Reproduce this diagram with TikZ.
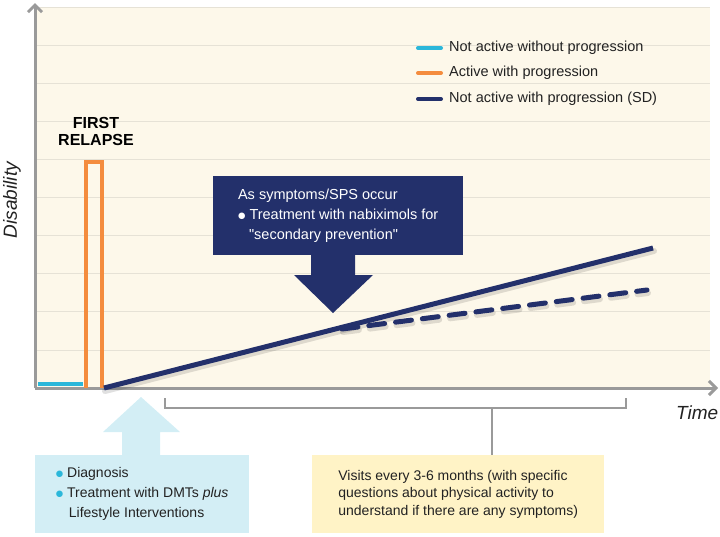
\documentclass[tikz,border=0pt]{standalone}
\usepackage{fontspec}
\setmainfont{Liberation Sans}
\newfontfamily\dejavu{DejaVu Sans}
\newcommand\mybul{\raisebox{1.3pt}{\dejavu\fontsize{8.5}{8.5}\selectfont ●}}
\usetikzlibrary{arrows.meta,calc}
\definecolor{cream}{HTML}{FDF8EA}
\definecolor{gridc}{HTML}{E6E2D6}
\definecolor{axisc}{HTML}{9A9A9A}
\definecolor{cyanc}{HTML}{2BB7DA}
\definecolor{orangec}{HTML}{F48C3E}
\definecolor{navyc}{HTML}{23306B}
\definecolor{lblue}{HTML}{D3EEF5}
\definecolor{lyellow}{HTML}{FFF3C6}
\definecolor{txt}{HTML}{222222}
\tikzset{
  axisline/.style={draw=axisc,line width=3pt,-{Straight Barb[length=7pt,width=14pt]}},
  gridline/.style={draw=gridc,line width=0.8pt},
  navyline/.style={draw=navyc,line width=5pt,line cap=round},
  shadowline/.style={draw=black,opacity=0.12,line width=6pt,line cap=round},
  legline/.style={line width=4pt,line cap=round},
  legtext/.style={anchor=west,inner sep=0pt,text=txt,font=\fontsize{14.5}{17}\selectfont},
  infobox/.style={inner xsep=16pt,inner ysep=0pt,align=left,text=txt,font=\fontsize{14}{19}\selectfont,minimum height=78pt},
  bracketline/.style={draw=axisc,line width=1.3pt}
}
\begin{document}
\begin{tikzpicture}[x=1pt,y=-1pt]
\useasboundingbox (0,0) rectangle (720,536);
% plot area
\fill[cream] (37,7) rectangle (710,388);
\foreach \k in {0,...,9} {
  \draw[gridline] (37,{7+38.1*\k}) -- (710,{7+38.1*\k});
}
% axes
\coordinate (O) at (35,388);
\coordinate (ytop) at (35,3);
\coordinate (xend) at (718,388);
\draw[axisline] (O) -- (ytop);
\draw[axisline] (O) -- (xend);
\node[rotate=90,font=\fontsize{19}{19}\selectfont\itshape,text=txt] (ylab) at (12,200) {Disability};
\node[font=\fontsize{19}{19}\selectfont\itshape,text=txt,anchor=west,inner sep=0pt] (xlab) at (676,413) {Time};
% not active without progression
\coordinate (c1) at (38,384);
\coordinate (c2) at (83,384);
\draw[legline,cyanc,line cap=butt] (c1) -- (c2);
% relapse
\coordinate (r1) at (86,388);
\coordinate (r2) at (86,162);
\coordinate (r3) at (102,162);
\coordinate (r4) at (102,388);
\draw[orangec,line width=4pt] (r1) -- (r2) -- (r3) -- (r4);
\node[font=\fontsize{16}{17}\selectfont\bfseries,align=center,text=black] (relapse) at (96,131) {FIRST\\RELAPSE};
% progression lines
\coordinate (s0) at (104,388);
\coordinate (s1) at (653,248);
\coordinate (d0) at (342,329);
\coordinate (d1) at (647,290);
\draw[shadowline] ($(s0)+(1,3)$) -- ($(s1)+(1,3)$);
\draw[shadowline,dash pattern=on 16pt off 11pt] ($(d0)+(1,3)$) -- ($(d1)+(1,3)$);
\draw[navyline,line cap=butt] (s0) -- (s1);
\draw[navyline,dash pattern=on 16pt off 11pt] (d0) -- (d1);
% legend
\coordinate (l1a) at (418,48); \coordinate (l1b) at (441,48);
\coordinate (l2a) at (418,73); \coordinate (l2b) at (441,73);
\coordinate (l3a) at (418,99); \coordinate (l3b) at (441,99);
\draw[legline,cyanc] (l1a) -- (l1b);
\draw[legline,orangec] (l2a) -- (l2b);
\draw[legline,navyc] (l3a) -- (l3b);
\node[legtext] (lt1) at (449,48) {Not active without progression};
\node[legtext] (lt2) at (449,73) {Active with progression};
\node[legtext] (lt3) at (449,99) {Not active with progression (SD)};
% nabiximols box and arrow
\node[fill=navyc,text=white,minimum width=250pt,minimum height=79pt,inner xsep=20pt,inner ysep=0pt,align=left,font=\fontsize{14.5}{20}\selectfont,anchor=north west] (nab) at (213,176)
  {As symptoms/SPS occur\\\mybul\ Treatment with nabiximols for\\\hspace*{11pt}\textquotedbl secondary prevention\textquotedbl};
\coordinate (tip) at (333,313);
\fill[navyc] (311,254) -- (355,254) -- (355,275) -- (373,275) -- (tip) -- (294,275) -- (311,275) -- cycle;
% diagnosis box and arrow
\node[infobox,fill=lblue,minimum width=214pt,anchor=north west] (diag) at (35,455)
  {{\color{cyanc}\mybul}\ Diagnosis\\[1pt]{\color{cyanc}\mybul}\ Treatment with DMTs \textit{plus}\\[1pt]\hspace*{13pt}Lifestyle Interventions};
\coordinate (utip) at (141,397);
\fill[lblue] (122,455.5) -- (122,432) -- (103,432) -- (utip) -- (180,432) -- (160,432) -- (160,455.5) -- cycle;
% visits box and bracket
\node[infobox,fill=lyellow,minimum width=292pt,anchor=north west,font=\fontsize{14}{17.5}\selectfont] (visits) at (312,455)
  {Visits every 3-6 months (with specific\\questions about physical activity to\\understand if there are any symptoms)};
\coordinate (bl) at (165,398);
\coordinate (br) at (626,398);
\coordinate (bm) at (492,408);
\draw[bracketline] (bl) -- (bl |- bm) -- (br |- bm) -- (br);
\draw[bracketline] (bm) -- (bm |- visits.north);
\end{tikzpicture}
\end{document}
